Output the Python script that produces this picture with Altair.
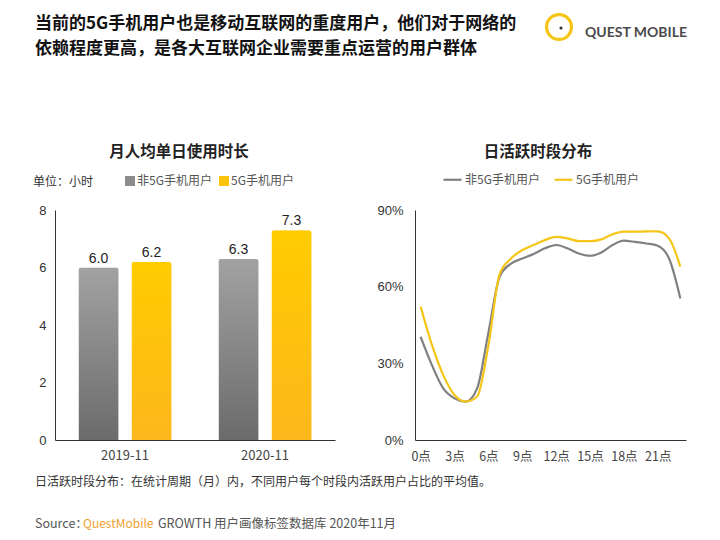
import altair as alt
import pandas as pd

# ---------------- data ----------------
series_names = ["非5G手机用户", "5G手机用户"]
periods = ["2019-11", "2020-11"]
usage_non5g = [6.0, 6.3]
usage_5g = [6.2, 7.3]

hours = list(range(24))
active_non5g = [40.4, 29.3, 20.2, 16.3, 15.0, 20.2, 42.0, 64.0, 69.0, 71.0, 72.8, 75.0,
                76.3, 75.0, 73.0, 72.1, 73.4, 76.3, 78.0, 77.5, 76.9, 76.0, 71.0, 55.4]
active_5g = [52.2, 37.2, 25.4, 17.6, 15.0, 17.0, 37.0, 65.0, 71.0, 74.3, 76.3, 78.2,
             79.5, 78.9, 77.8, 77.8, 78.5, 80.5, 81.5, 81.5, 81.6, 81.6, 78.9, 67.8]
hour_ticks = [0, 3, 6, 9, 12, 15, 18, 21]

title_lines = ["当前的5G手机用户也是移动互联网的重度用户，他们对于网络的",
               "依赖程度更高，是各大互联网企业需要重点运营的用户群体"]
left_title = "月人均单日使用时长"
right_title = "日活跃时段分布"
unit_text = "单位：小时"
note_text = "日活跃时段分布：在统计周期（月）内，不同用户每个时段内活跃用户占比的平均值。"
source_parts = ["Source：", "QuestMobile", "GROWTH 用户画像标签数据库 2020年11月"]

bar_df = pd.DataFrame({
    "period": periods * 2,
    "series": [series_names[0]] * 2 + [series_names[1]] * 2,
    "value": usage_non5g + usage_5g,
})
line_df = pd.DataFrame({
    "hour": hours * 2,
    "series": [series_names[0]] * 24 + [series_names[1]] * 24,
    "share": [v / 100 for v in active_non5g] + [v / 100 for v in active_5g],
})

CJK = "Noto Sans CJK SC"
GRAY = "#808084"
YELLOW = "#f5c518"

def txt(s, x, y, size=12, color="#333", weight="normal", align="left", font=CJK, baseline="middle", **kw):
    return alt.Chart(pd.DataFrame({"t": [s]})).mark_text(
        align=align, baseline=baseline, fontSize=size, color=color, fontWeight=weight, font=font, **kw
    ).encode(text="t:N", x=alt.value(x), y=alt.value(y))

grad_gray = {"gradient": "linear", "x1": 0, "x2": 0, "y1": 0, "y2": 1,
             "stops": [{"offset": 0, "color": "#a2a2a2"}, {"offset": 1, "color": "#6b6b6b"}]}
grad_yellow = {"gradient": "linear", "x1": 0, "x2": 0, "y1": 0, "y2": 1,
               "stops": [{"offset": 0, "color": "#ffcc00"}, {"offset": 1, "color": "#fdb71c"}]}

# ---------------- bar chart ----------------
W1, H = 280, 230
base = alt.Chart(bar_df).encode(
    x=alt.X("period:N", title=None, sort=periods,
            scale=alt.Scale(paddingInner=0, paddingOuter=0),
            axis=alt.Axis(labelAngle=0, ticks=False, labelFont=CJK, labelFontSize=13,
                          labelColor="#444", labelPadding=9, domainColor="#333")),
    xOffset=alt.XOffset("series:N", scale=alt.Scale(domain=series_names, paddingInner=0.245, paddingOuter=0.443)),
    y=alt.Y("value:Q", title=None, scale=alt.Scale(domain=[0, 8]),
            axis=alt.Axis(values=[0, 2, 4, 6, 8], grid=False, ticks=False, labelFont="Liberation Sans",
                          labelFontSize=13, labelColor="#333", labelPadding=9, domainColor="#333")),
)
bars_legend = base.mark_bar(cornerRadiusTopLeft=3, cornerRadiusTopRight=3).encode(
    color=alt.Color("series:N", scale=alt.Scale(domain=series_names, range=["#8c8c8c", "#ffc40d"]),
                    legend=alt.Legend(orient="none", legendX=69, legendY=-35, direction="horizontal",
                                      title=None, symbolType="square", symbolSize=100,
                                      labelFont=CJK, labelFontSize=12, labelColor="#555",
                                      labelOffset=1, columnPadding=6, symbolStrokeWidth=0))
)
bars_gray = base.transform_filter(alt.datum.series == series_names[0]).mark_bar(
    color=grad_gray, cornerRadiusTopLeft=3, cornerRadiusTopRight=3)
bars_yellow = base.transform_filter(alt.datum.series == series_names[1]).mark_bar(
    color=grad_yellow, cornerRadiusTopLeft=3, cornerRadiusTopRight=3)
bar_labels = base.mark_text(dy=-9, fontSize=14, font="Liberation Sans", color="#222").encode(
    text=alt.Text("value:Q", format=".1f"))

left = alt.layer(
    bars_legend, bars_gray, bars_yellow, bar_labels,
    txt(title_lines[0], -20, -186, size=17, color="#111", weight="bold"),
    txt(title_lines[1], -20, -161, size=17, color="#111", weight="bold"),
    txt(left_title, 124, -58, size=15.5, color="#222", weight="bold", align="center"),
    txt(unit_text, -22, -28, size=12, color="#333"),
    txt(note_text, -20, 272, size=12, color="#333"),
    txt(source_parts[0], -20, 314, size=12.5, color="#555"),
    txt(source_parts[1], 28, 314, size=12, color="#f0a030"),
    txt(source_parts[2], 103, 314, size=12.5, color="#555"),
).properties(width=W1, height=H)

# ---------------- line chart ----------------
W2 = 271
lines = alt.Chart(line_df).mark_line(interpolate="monotone", strokeWidth=2.2).encode(
    x=alt.X("hour:Q", title=None, scale=alt.Scale(domain=[-0.5, 23.5], nice=False, zero=False),
            axis=alt.Axis(values=hour_ticks, labelExpr="datum.value + '点'", grid=False, ticks=False,
                          labelFont=CJK, labelFontSize=12.5, labelColor="#444", labelPadding=10,
                          domainColor="#333", labelFlush=False)),
    y=alt.Y("share:Q", title=None, scale=alt.Scale(domain=[0, 0.9], nice=False),
            axis=alt.Axis(values=[0, 0.3, 0.6, 0.9], format=".0%", grid=False, ticks=False,
                          labelFont="Liberation Sans", labelFontSize=13, labelColor="#333",
                          labelPadding=12, domainColor="#333")),
    color=alt.Color("series:N", scale=alt.Scale(domain=series_names, range=[GRAY, YELLOW]),
                    legend=alt.Legend(orient="none", legendX=27, legendY=-41, direction="horizontal",
                                      title=None, symbolType="stroke", symbolSize=324,
                                      symbolStrokeWidth=2.2, labelFont=CJK, labelFontSize=12,
                                      labelColor="#555", labelOffset=2, columnPadding=10)),
    detail="series:N",
)

logo_ring = alt.Chart(pd.DataFrame({"t": ["ring"]})).mark_point(
    shape="circle", size=620, filled=False, stroke="#f5c518", strokeWidth=3.2, opacity=1
).encode(x=alt.value(144), y=alt.value(-183))
logo_dot = alt.Chart(pd.DataFrame({"t": ["dot"]})).mark_point(
    shape="circle", size=10, filled=True, color="#333", opacity=1
).encode(x=alt.value(146), y=alt.value(-182))

right = alt.layer(
    lines,
    txt(right_title, 123, -58, size=15.5, color="#222", weight="bold", align="center"),
    logo_ring, logo_dot,
    txt("QUEST MOBILE", 170, -177, size=14, color="#4a4a4a", weight="bold", font="Lato"),
).properties(width=W2, height=H)

chart = alt.hconcat(left, right, spacing=80, bounds="flush").resolve_scale(
    color="independent", x="independent", y="independent"
).properties(
    padding={"left": 25, "top": 0, "right": 0, "bottom": 0},
    background="white",
).configure_view(stroke=None)

chart.save("out.html", embed_options={"renderer": "svg", "actions": False})
